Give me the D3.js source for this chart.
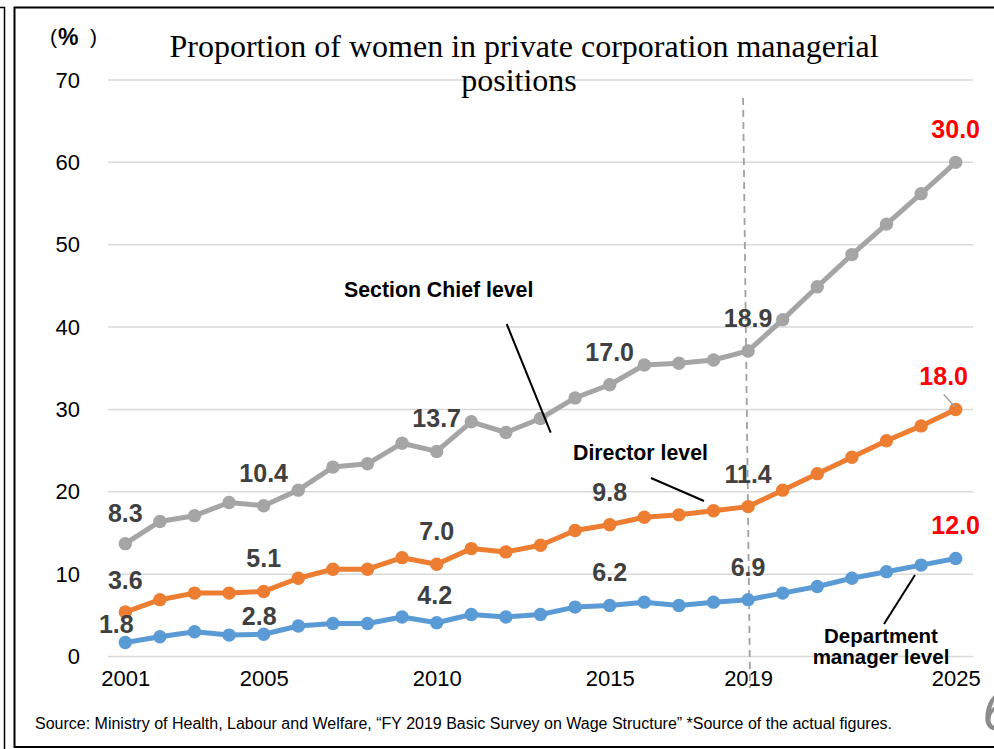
<!DOCTYPE html>
<html>
<head>
<meta charset="utf-8">
<style>
  body { margin: 0; background: white; }
  svg { display: block; }
  .tick text { font-family: "Liberation Sans", Arial, sans-serif; }
</style>
</head>
<body>
<script src="https://cdn.jsdelivr.net/npm/d3@7"></script>
<script>
  // years on the x axis
  const years = d3.range(2001, 2026);
  const xTickYears = [2001, 2005, 2010, 2015, 2019, 2025];
  const yTicks = [0, 10, 20, 30, 40, 50, 60, 70];

  // plotted values
  const sectionChief = [13.7, 16.4, 17.1, 18.7, 18.3, 20.2, 23.0, 23.4, 25.9, 24.9, 28.5, 27.2, 28.9,
    31.4, 33.0, 35.4, 35.6, 36.0, 37.1, 40.9, 44.9, 48.8, 52.5, 56.2, 60.0];
  const director = [5.4, 6.9, 7.7, 7.7, 7.9, 9.5, 10.6, 10.6, 12.0, 11.2, 13.1, 12.7, 13.5,
    15.3, 16.0, 16.9, 17.2, 17.7, 18.2, 20.2, 22.2, 24.2, 26.2, 28.0, 30.0];
  const deptManager = [1.7, 2.4, 3.0, 2.6, 2.7, 3.7, 4.0, 4.0, 4.8, 4.1, 5.1, 4.8, 5.1,
    6.0, 6.2, 6.6, 6.2, 6.6, 6.9, 7.7, 8.5, 9.5, 10.3, 11.1, 11.9];

  // data labels shown on the chart
  const labelYears = [2001, 2005, 2010, 2015, 2019, 2025];
  const sectionChiefLabels = ["8.3", "10.4", "13.7", "17.0", "18.9", "30.0"];
  const directorLabels = ["3.6", "5.1", "7.0", "9.8", "11.4", "18.0"];
  const deptManagerLabels = ["1.8", "2.8", "4.2", "6.2", "6.9", "12.0"];

  const w = 994, h = 749;
  const svg = d3.select("body").append("svg").attr("width", w).attr("height", h);

  // frame
  svg.append("path").attr("d", "M0,7.5H4.5V749").attr("fill", "none").attr("stroke", "#000").attr("stroke-width", 1.5);
  svg.append("path").attr("d", "M994,7.5H14.5V747H994").attr("fill", "none").attr("stroke", "#000").attr("stroke-width", 2);

  const x = d3.scaleBand().domain(years).range([108, 973]);
  const xp = d => x(d) + x.bandwidth() / 2;
  const y = d3.scaleLinear().domain([0, 70]).range([656.5, 80]);

  // grid
  svg.append("g").selectAll("line").data(yTicks).enter().append("line")
    .attr("x1", 108).attr("x2", 973)
    .attr("y1", d => y(d)).attr("y2", d => y(d))
    .attr("stroke", "#d9d9d9").attr("stroke-width", 1.5);

  // y axis labels
  const yAxis = d3.axisLeft(y).tickValues(yTicks).tickSize(0).tickPadding(0);
  const gy = svg.append("g").attr("transform", "translate(80,0)").call(yAxis);
  gy.select(".domain").remove();
  gy.selectAll("text").attr("font-size", 22).attr("fill", "#000");

  // x axis labels
  const xAxis = d3.axisBottom(d3.scalePoint().domain(years).range([xp(2001), xp(2025)]))
    .tickValues(xTickYears).tickSize(0).tickPadding(0);
  const gx = svg.append("g").attr("transform", "translate(0,670)").call(xAxis);
  gx.select(".domain").remove();
  gx.selectAll("text").attr("font-size", 22).attr("fill", "#000");

  // 2019 dashed marker
  svg.append("line")
    .attr("x1", xp(2019) - 5).attr("y1", 98)
    .attr("x2", xp(2019) + 2).attr("y2", 688)
    .attr("stroke", "#a0a0a0").attr("stroke-width", 1.8).attr("stroke-dasharray", "7,5");

  const series = [
    { values: sectionChief, labels: sectionChiefLabels, color: "#a5a5a5", key: "s" },
    { values: director, labels: directorLabels, color: "#ed7d31", key: "d" },
    { values: deptManager, labels: deptManagerLabels, color: "#5b9bd5", key: "m" }
  ];

  const line = d3.line().x((d, i) => xp(years[i])).y(d => y(d));

  series.forEach(s => {
    svg.append("path").datum(s.values)
      .attr("d", line).attr("fill", "none")
      .attr("stroke", s.color).attr("stroke-width", 5).attr("stroke-linejoin", "round");
    svg.append("g").selectAll("circle").data(s.values).enter().append("circle")
      .attr("cx", (d, i) => xp(years[i])).attr("cy", d => y(d)).attr("r", 6.7)
      .attr("fill", s.color);
  });

  // label nudges [dx, dy] for crowded spots
  const nudge = { "s2001": [0, 2], "d2001": [0, 1], "d2025": [-12, 0], "m2001": [-9, 15], "m2005": [-4.5, 15], "m2010": [-2, 5] };

  series.forEach(s => {
    labelYears.forEach((yr, k) => {
      const i = years.indexOf(yr);
      const n = nudge[s.key + yr] || [0, 0];
      const cx = xp(yr) + n[0], cy = y(s.values[i]) - 33 + n[1];
      svg.append("text")
        .attr("x", cx).attr("y", cy + 9)
        .attr("text-anchor", "middle")
        .attr("font-family", "Liberation Sans, Arial, sans-serif")
        .attr("font-weight", "bold").attr("font-size", 25)
        .attr("fill", yr === 2025 ? "#ff0000" : "#404040")
        .text(s.labels[k]);
    });
  });

  // small leader for the 18.0 label
  svg.append("line")
    .attr("x1", xp(2025) - 12).attr("y1", y(director[24]) - 15)
    .attr("x2", xp(2025) - 1).attr("y2", y(director[24]) - 3)
    .attr("stroke", "#a5a5a5").attr("stroke-width", 1.5);

  // series names with leader lines
  const ann = svg.append("g").attr("font-family", "Liberation Sans, Arial, sans-serif")
    .attr("font-weight", "bold").attr("font-size", 21.3).attr("fill", "#000");
  ann.append("text").attr("x", 344).attr("y", 297).text("Section Chief level");
  ann.append("text").attr("x", 573).attr("y", 460).text("Director level");
  const dept = svg.append("g").attr("font-family", "Liberation Sans, Arial, sans-serif")
    .attr("font-weight", "bold").attr("font-size", 20.5).attr("fill", "#000").attr("text-anchor", "middle");
  dept.append("text").attr("x", 881).attr("y", 643).text("Department");
  dept.append("text").attr("x", 881).attr("y", 664).text("manager level");
  [[506.7, 324, 550.7, 432.7], [651, 478, 704, 501], [915, 575, 884, 624]].forEach(l => {
    svg.append("line").attr("x1", l[0]).attr("y1", l[1]).attr("x2", l[2]).attr("y2", l[3])
      .attr("stroke", "#000").attr("stroke-width", 2);
  });

  // title
  const title = svg.append("text").attr("text-anchor", "middle")
    .attr("font-family", "Liberation Serif, Times New Roman, serif").attr("font-size", 32).attr("fill", "#000");
  title.append("tspan").attr("x", 524).attr("y", 57).text("Proportion of women in private corporation managerial");
  title.append("tspan").attr("x", 519).attr("y", 91).text("positions");

  // unit
  const unit = svg.append("g").attr("font-family", "Liberation Sans, Arial, sans-serif").attr("fill", "#000");
  unit.append("text").attr("x", 50).attr("y", 44).attr("font-size", 21).attr("font-weight", 300).text("(");
  unit.append("text").attr("x", 58).attr("y", 45).attr("font-size", 23).attr("font-weight", 600).text("%");
  unit.append("text").attr("x", 90).attr("y", 44).attr("font-size", 21).attr("font-weight", 300).text(")");

  // source
  svg.append("text").attr("x", 35).attr("y", 729)
    .attr("font-family", "Liberation Sans, Arial, sans-serif").attr("font-size", 16).attr("fill", "#000")
    .text("Source: Ministry of Health, Labour and Welfare, \u201cFY 2019 Basic Survey on Wage Structure\u201d *Source of the actual figures.");

  // page number, cut at the edge
  svg.append("text").attr("x", 982).attr("y", 730)
    .attr("font-family", "DejaVu Sans, sans-serif").attr("font-style", "italic").attr("font-weight", 300)
    .attr("font-size", 52).attr("fill", "#8c8c8c").text("6");
</script>
</body>
</html>
